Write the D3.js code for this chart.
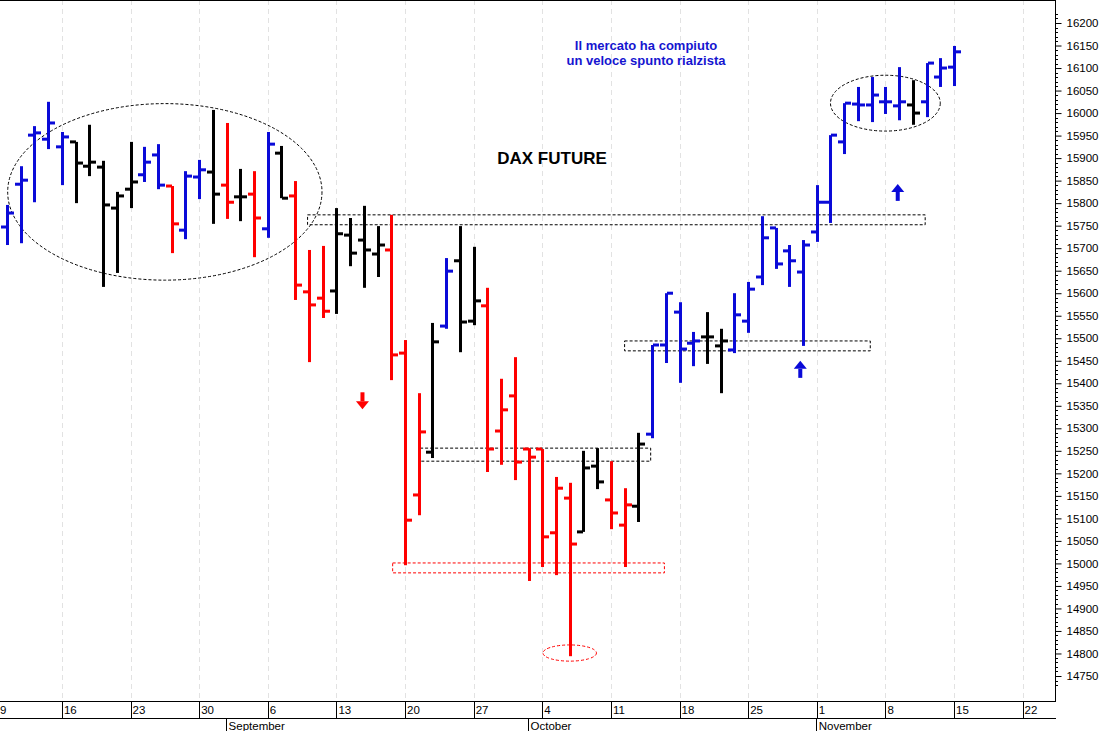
<!DOCTYPE html>
<html><head><meta charset="utf-8">
<script src="https://cdn.jsdelivr.net/npm/d3@7"></script>
<style>body{margin:0;background:#fff}svg{display:block;font-family:Arial,"Liberation Sans",sans-serif}</style>
</head><body><svg id="c" width="1103" height="731"></svg>
<script>
// Trading days from Tue 10 Aug 2021 to Mon 15 Nov 2021 (70 sessions)
const firstDay = "2021-08-10", lastDay = "2021-11-15";
const highs  = [15796,15882,15971,16025,15958,15936,15974,15894,15825,15936,15925,15931,15838,15871,15896,16007,15978,15876,15871,15958,15927,15849,15696,15705,15789,15767,15794,15749,15774,15496,15378,15534,15678,15749,15703,15612,15410,15458,15256,15254,15192,15179,15250,15256,15227,15167,15290,15485,15600,15580,15514,15558,15521,15600,15625,15771,15745,15707,15718,15840,15951,16022,16058,16080,16058,16102,16073,16111,16122,16149];
const lows   = [15707,15711,15802,15920,15840,15800,15860,15614,15645,15789,15847,15831,15689,15720,15809,15754,15765,15760,15680,15723,15811,15585,15447,15545,15554,15660,15612,15636,15407,14996,15107,15234,15521,15469,15529,15203,15219,15185,14961,14992,14974,14794,15070,15165,15076,14992,15092,15278,15445,15401,15438,15443,15378,15467,15512,15618,15654,15614,15483,15714,15756,15909,15982,15980,15998,15984,15974,15991,16058,16060];
const opens  = [15747,15842,15951,15942,15925,15936,15882,15880,15789,15831,15863,15907,15838,15740,15858,15869,15840,15814,15820,15743,15911,15816,15603,15589,15605,15729,15718,15687,15696,15467,15152,15247,15527,15672,15538,15572,15294,15372,15254,15254,15068,15145,15070,15216,15141,15085,15127,15287,15485,15558,15489,15503,15483,15474,15538,15636,15745,15694,15647,15736,15802,15936,16020,16018,16025,16016,16018,16025,16080,16102];
const closes = [15778,15851,15956,15978,15947,15889,15891,15796,15816,15847,15891,15840,15754,15860,15874,15820,15802,15814,15767,15931,15811,15618,15574,15560,15732,15689,15696,15707,15463,15096,15292,15492,15649,15536,15583,15254,15341,15225,15236,15059,15167,15043,15212,15181,15112,15130,15265,15485,15600,15476,15494,15503,15494,15552,15609,15723,15665,15672,15707,15802,15951,16022,16018,16040,16025,16025,16000,16111,16100,16136];
const colorCodes = "bbbbbkkkkkbbrbbkrkrbkrrrkkkkrrrkbkkrrrrrrrkkrrkbbbbkkbbbbbbbbbbbbbkbbb";
const weekLabels = ["9","16","23","30","6","13","20","27","4","11","18","25","1","8","15","22"];
const monthLabels = ["September","October","November"];
const monthStartIdx = [16,38,59];
const yTicks = d3.range(14750,16201,50);
const title = "DAX FUTURE";
const note = ["Il mercato ha compiuto","un veloce spunto rialzista"];
// annotations in data units (trading-day index, price)
const boxes = [{i0:21.9,i1:66.9,v0:15752,v1:15774,c:"#000"},{i0:45.0,i1:62.9,v0:15472,v1:15494,c:"#000"},{i0:30.1,i1:46.9,v0:15227,v1:15256,c:"#000"},{i0:28.1,i1:47.9,v0:14979,v1:15001,c:"#f00"}];
const ellipses = [{i:11.5,ri:11.45,v:15825,rv:196,c:"#000"},{i:64,ri:4.0,v:16022,rv:62,c:"#000"},{i:41,ri:1.95,v:14801,rv:18,c:"#f00"}];
const arrows = [{i:25.9,v:15360,dir:"down",c:"#f00"},{i:57.8,v:15432,dir:"up",c:"#0a0ad8"},{i:64.9,v:15825,dir:"up",c:"#0a0ad8"}];

const days=[];for(let d=new Date(firstDay+"T12:00:00");d<=new Date(lastDay+"T12:00:00");d.setDate(d.getDate()+1)){const w=d.getDay();if(w>0&&w<6)days.push(new Date(d));}
const bars = days.map((d,i)=>({d,i,h:highs[i],l:lows[i],o:opens[i],c:closes[i],col:{b:"#0a0ad8",r:"#ff0000",k:"#000000"}[colorCodes[i]]}));

const svg=d3.select("#c");
const R=1055,B=701;
const x=d3.scaleLinear().domain([0,69]).range([7,954]);
const y=d3.scaleLinear().domain([14750,16200]).range([676,23]);

const mondays=weekLabels.map((l,k)=>({l,i:-1+5*k}));
svg.append("g").selectAll("line").data(mondays).join("line")
 .attr("x1",d=>Math.round(x(d.i))+0.5).attr("x2",d=>Math.round(x(d.i))+0.5).attr("y1",0).attr("y2",B)
 .attr("stroke","#e2e2e2").attr("stroke-dasharray","5,4");

svg.append("line").attr("x1",0).attr("x2",R).attr("y1",0.5).attr("y2",0.5).attr("stroke","#000");
svg.append("line").attr("x1",R+0.5).attr("x2",R+0.5).attr("y1",0).attr("y2",B).attr("stroke","#000");
svg.append("line").attr("x1",0).attr("x2",R+1).attr("y1",B+0.5).attr("y2",B+0.5).attr("stroke","#000");
svg.append("line").attr("x1",0).attr("x2",R+1).attr("y1",718.5).attr("y2",718.5).attr("stroke","#000");

const yAxis=d3.axisRight(y).tickValues(yTicks).tickSize(6).tickPadding(5).tickFormat(d3.format("d"));
const ga=svg.append("g").attr("transform",`translate(${R+0.5},0)`).call(yAxis);
ga.select(".domain").remove();
ga.selectAll("text").attr("font-size",11.5).attr("fill","#000").attr("font-family","Arial,'Liberation Sans',sans-serif");
svg.append("g").selectAll("line").data(d3.range(14730,16221,10).filter(v=>v%50)).join("line")
 .attr("x1",R).attr("x2",R+3).attr("y1",d=>Math.round(y(d))+0.5).attr("y2",d=>Math.round(y(d))+0.5).attr("stroke","#000");

const gx=svg.append("g");
gx.selectAll("line").data(mondays).join("line").attr("x1",d=>Math.round(x(d.i))+0.5).attr("x2",d=>Math.round(x(d.i))+0.5).attr("y1",B).attr("y2",718).attr("stroke","#000");
gx.selectAll("text").data(mondays).join("text").attr("x",d=>Math.max(x(d.i)+2,0)).attr("y",714).attr("font-size",11.5).text(d=>d.l);
const gm=svg.append("g");
gm.selectAll("line").data(monthStartIdx).join("line").attr("x1",d=>Math.round(x(d)-0.5)+0.5).attr("x2",d=>Math.round(x(d)-0.5)+0.5).attr("y1",718).attr("y2",731).attr("stroke","#000");
gm.selectAll("text").data(monthLabels).join("text").attr("x",(d,k)=>x(monthStartIdx[k])+2).attr("y",730).attr("font-size",11.5).text(d=>d);

const ga2=svg.append("g").attr("fill","none").attr("stroke-width",1).attr("stroke-dasharray","3,2");
ga2.selectAll("rect").data(boxes).join("rect").attr("x",d=>x(d.i0)).attr("width",d=>x(d.i1)-x(d.i0)).attr("y",d=>y(d.v1)).attr("height",d=>y(d.v0)-y(d.v1)).attr("stroke",d=>d.c);
ga2.selectAll("ellipse").data(ellipses).join("ellipse").attr("cx",d=>x(d.i)).attr("cy",d=>y(d.v)).attr("rx",d=>x(d.ri)-x(0)).attr("ry",d=>y(0)-y(d.rv)).attr("stroke",d=>d.c);

const gb=svg.append("g");
bars.forEach(b=>{
 const cx=Math.round(x(b.i));
 gb.append("rect").attr("x",cx-1).attr("width",3).attr("y",y(b.h)).attr("height",y(b.l)-y(b.h)).attr("fill",b.col);
 gb.append("rect").attr("x",cx-6).attr("width",6).attr("y",y(b.o)-1.5).attr("height",3).attr("fill",b.col);
 gb.append("rect").attr("x",cx+1).attr("width",6).attr("y",y(b.c)-1.5).attr("height",3).attr("fill",b.col);
});

arrows.forEach(a=>{
 const cx=x(a.i),cy=y(a.v),s=a.dir==="up"?-1:1;
 const g=svg.append("g").attr("fill",a.c);
 g.append("rect").attr("x",cx-2).attr("width",4).attr("y",s>0?cy-9:cy).attr("height",9);
 g.append("path").attr("d",`M${cx-6.5},${cy}L${cx+6.5},${cy}L${cx},${cy+8*s}Z`);
});

svg.append("text").attr("x",552).attr("y",164).attr("text-anchor","middle").attr("font-size",17).attr("font-weight","bold").text(title);
svg.append("g").selectAll("text").data(note).join("text").attr("x",646).attr("y",(d,k)=>50+k*15).attr("text-anchor","middle")
 .attr("font-size",13).attr("font-weight","bold").attr("fill","#1515d0").text(d=>d);
</script></body></html>
